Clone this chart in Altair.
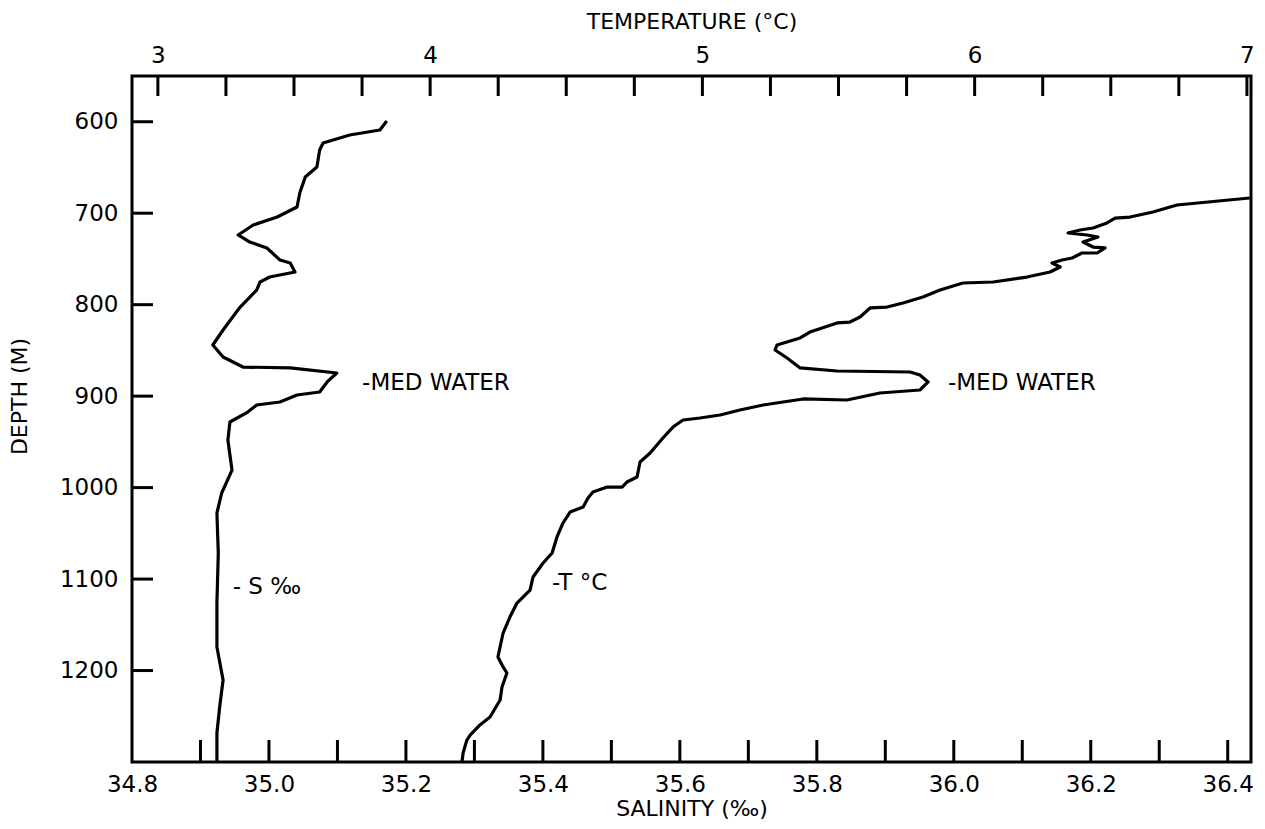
import altair as alt
import pandas as pd

# ---------------- data ----------------
sal_values = [35.172, 35.162, 35.118, 35.079, 35.074, 35.070, 35.053, 35.045, 35.041, 35.012,
              34.977, 34.955, 34.972, 34.997, 35.016, 35.031, 35.038, 35.001, 34.987, 34.982,
              34.958, 34.947, 34.933, 34.918, 34.933, 34.962, 35.031, 35.099, 35.085, 35.074,
              35.041, 35.016, 34.982, 34.969, 34.943, 34.940, 34.946, 34.931, 34.924, 34.926,
              34.924, 34.924, 34.933, 34.928, 34.924, 34.924]
sal_depths = [599.2, 609.0, 614.5, 623.3, 630.9, 649.5, 660.4, 677.9, 693.2, 704.2,
              712.9, 723.8, 731.5, 738.0, 751.2, 754.4, 764.3, 769.8, 775.2, 784.0,
              802.6, 813.5, 827.7, 844.1, 857.2, 868.2, 869.2, 874.7, 884.5, 895.5,
              898.8, 906.4, 909.7, 917.4, 928.3, 948.0, 980.8, 1005.9, 1027.8, 1071.5,
              1126.2, 1174.3, 1210.4, 1239.9, 1268.3, 1300.0]

temp_values = [7.01, 6.743, 6.655, 6.571, 6.516, 6.486, 6.435, 6.387, 6.343, 6.413,
               6.453, 6.398, 6.435, 6.479, 6.450, 6.394, 6.358, 6.321, 6.284, 6.314,
               6.277, 6.192, 6.068, 5.957, 5.873, 5.810, 5.737, 5.678, 5.616, 5.579,
               5.542, 5.495, 5.395, 5.359, 5.274, 5.267, 5.311, 5.359, 5.495, 5.763,
               5.799, 5.829, 5.799, 5.652, 5.531, 5.370, 5.223, 5.138, 5.065, 4.991,
               4.929, 4.892, 4.855, 4.808, 4.771, 4.760, 4.723, 4.705, 4.650, 4.598,
               4.580, 4.562, 4.514, 4.488, 4.466, 4.448, 4.415, 4.378, 4.367, 4.319,
               4.293, 4.268, 4.249, 4.268, 4.282, 4.264, 4.257, 4.220, 4.183, 4.147,
               4.135, 4.121, 4.117]
temp_depths = [683.4, 691.0, 698.7, 704.2, 705.3, 710.7, 716.2, 718.4, 721.6, 723.8,
               726.0, 731.5, 737.0, 738.0, 743.5, 743.5, 749.0, 751.2, 754.4, 758.8,
               764.3, 769.8, 775.2, 776.3, 784.0, 791.6, 798.2, 802.6, 803.6, 813.5,
               819.0, 820.0, 829.9, 836.4, 844.1, 849.6, 858.3, 869.2, 872.5, 873.6,
               876.9, 884.5, 893.3, 896.6, 904.2, 903.1, 909.7, 915.2, 920.6, 923.9,
               926.1, 933.8, 945.8, 962.2, 972.0, 988.4, 993.9, 999.4, 999.4, 1004.8,
               1011.4, 1021.2, 1026.7, 1038.7, 1054.0, 1071.5, 1082.4, 1097.7, 1112.0, 1126.2,
               1141.5, 1159.0, 1185.2, 1196.1, 1202.7, 1218.0, 1232.2, 1250.8, 1259.5, 1270.5,
               1276.0, 1290.2, 1300.0]

depth_ticks = [600, 700, 800, 900, 1000, 1100, 1200]
sal_ticks = [34.9, 35.0, 35.1, 35.2, 35.3, 35.4, 35.5, 35.6, 35.7, 35.8,
             35.9, 36.0, 36.1, 36.2, 36.3, 36.4]
sal_labels = [34.8, 35.0, 35.2, 35.4, 35.6, 35.8, 36.0, 36.2, 36.4]
temp_ticks = [3.0, 3.25, 3.5, 3.75, 4.0, 4.25, 4.5, 4.75, 5.0, 5.25, 5.5, 5.75,
              6.0, 6.25, 6.5, 6.75, 7.0]
temp_labels = [3, 4, 5, 6, 7]

sal_notes = ["-MED WATER", "- S ‰"]
sal_note_x = [35.136, 34.947]
sal_note_y = [885.6, 1108.7]
temp_notes = ["-MED WATER", "-T °C"]
temp_note_x = [5.902, 4.448]
temp_note_y = [885.6, 1104.3]

# ---------------- frames ----------------
sal_df = pd.DataFrame({"S": sal_values, "D": sal_depths, "i": range(len(sal_values))})
temp_df = pd.DataFrame({"T": temp_values, "D": temp_depths, "i": range(len(temp_values))})
dt_df = pd.DataFrame({"D": depth_ticks})
st_df = pd.DataFrame({"S": sal_ticks})
tt_df = pd.DataFrame({"T": temp_ticks})
sn_df = pd.DataFrame({"S": sal_note_x, "D": sal_note_y, "txt": sal_notes})
tn_df = pd.DataFrame({"T": temp_note_x, "D": temp_note_y, "txt": temp_notes})

W, H = 1119, 686
FONT = "DejaVu Sans"
LW = 3.2

s_scale = alt.Scale(domain=[34.8, 36.434], nice=False, zero=False)
t_scale = alt.Scale(domain=[2.905, 7.015], nice=False, zero=False)
d_scale = alt.Scale(domain=[550, 1300], reverse=True, nice=False, zero=False)

common = dict(domain=False, ticks=False, tickSize=0, grid=False, labelFont=FONT,
              titleFont=FONT, titleFontWeight="normal", labelColor="black",
              titleColor="black", labelFontSize=23, titleFontSize=22)

y_axis = alt.Axis(values=depth_ticks, format="d", title="DEPTH (M)", labelPadding=14,
                  titlePadding=28, titleY=320, **common)
s_axis = alt.Axis(orient="bottom", values=sal_labels, format=".1f", title="SALINITY (‰)",
                  labelPadding=11, titlePadding=2, labelFlush=False, **common)
t_axis = alt.Axis(orient="top", values=temp_labels, format="d", title="TEMPERATURE (°C)",
                  labelPadding=9, titlePadding=11, labelFlush=False, **common)

sal_line = alt.Chart(sal_df).mark_line(color="black", strokeWidth=LW, strokeJoin="round").encode(
    x=alt.X("S:Q", scale=s_scale, axis=s_axis),
    y=alt.Y("D:Q", scale=d_scale, axis=y_axis),
    order="i:Q",
)
depth_tick_rules = alt.Chart(dt_df).mark_rule(color="black", strokeWidth=3).encode(
    y=alt.Y("D:Q", scale=d_scale, axis=y_axis),
    x=alt.value(0), x2=alt.value(21),
)
sal_tick_rules = alt.Chart(st_df).mark_rule(color="black", strokeWidth=3).encode(
    x=alt.X("S:Q", scale=s_scale, axis=s_axis),
    y=alt.value(H - 22), y2=alt.value(H),
)
sal_text = alt.Chart(sn_df).mark_text(align="left", baseline="middle", fontSize=23,
                                      font=FONT, color="black").encode(
    x=alt.X("S:Q", scale=s_scale, axis=s_axis),
    y=alt.Y("D:Q", scale=d_scale, axis=y_axis),
    text="txt:N",
)
sal_group = alt.layer(sal_line, depth_tick_rules, sal_tick_rules, sal_text)

temp_line = alt.Chart(temp_df).mark_line(color="black", strokeWidth=LW, strokeJoin="round",
                                         clip=True).encode(
    x=alt.X("T:Q", scale=t_scale, axis=t_axis),
    y=alt.Y("D:Q", scale=d_scale, axis=y_axis),
    order="i:Q",
)
temp_tick_rules = alt.Chart(tt_df).mark_rule(color="black", strokeWidth=3).encode(
    x=alt.X("T:Q", scale=t_scale, axis=t_axis),
    y=alt.value(0), y2=alt.value(20),
)
temp_text = alt.Chart(tn_df).mark_text(align="left", baseline="middle", fontSize=23,
                                       font=FONT, color="black").encode(
    x=alt.X("T:Q", scale=t_scale, axis=t_axis),
    y=alt.Y("D:Q", scale=d_scale, axis=y_axis),
    text="txt:N",
)
temp_group = alt.layer(temp_line, temp_tick_rules, temp_text)

chart = alt.layer(sal_group, temp_group).resolve_scale(x="independent").properties(
    width=W, height=H,
    autosize=alt.AutoSizeParams(type="none"),
    padding={"left": 124, "top": 68, "right": 6, "bottom": 60},
    background="white",
).configure_view(stroke="black", strokeWidth=3)

chart.save("out.html", embed_options={"renderer": "svg", "actions": False})
